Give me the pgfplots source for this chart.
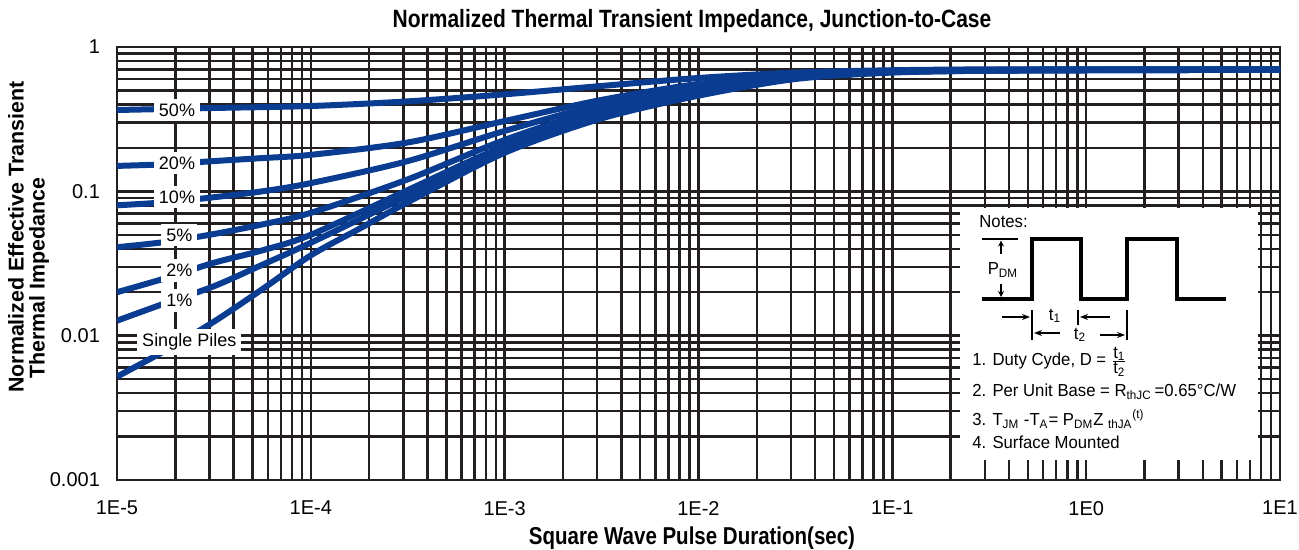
\documentclass[border=0pt]{standalone}
\usepackage{fontspec}
\setmainfont{Liberation Sans}
\newfontfamily\narrowfont[FakeStretch=0.84]{Liberation Sans}
\newfontfamily\notefont[FakeStretch=0.96]{Liberation Sans}
\usepackage{pgfplots}
\pgfplotsset{compat=1.18}
\usetikzlibrary{arrows.meta}
\definecolor{gridc}{HTML}{231F20}
\definecolor{curve}{HTML}{0A3D91}
\begin{document}
\begin{tikzpicture}
\useasboundingbox (-58.5pt,-35pt) rectangle (591pt,240pt);
\begin{axis}[
  at={(0pt,0pt)}, anchor=south west,
  scale only axis, width=581.5pt, height=216.5pt,
  xmode=log, ymode=log,
  xmin=1e-5, xmax=10, ymin=1e-3, ymax=1,
  xtick={1e-5,1e-4,1e-3,1e-2,1e-1,1,10},
  xticklabels={1E-5,1E-4,1E-3,1E-2,1E-1,1E0,1E1},
  ytick={0.001,0.01,0.1,1},
  yticklabels={0.001,0.01,0.1,1},
  minor xtick={2e-5,3e-5,4e-5,5e-5,6e-5,7e-5,8e-5,9e-5,
               2e-4,3e-4,4e-4,5e-4,6e-4,7e-4,8e-4,9e-4,
               2e-3,3e-3,4e-3,5e-3,6e-3,7e-3,8e-3,9e-3,
               2e-2,3e-2,4e-2,5e-2,6e-2,7e-2,8e-2,9e-2,
               0.2,0.3,0.4,0.5,0.6,0.7,0.8,0.9,
               2,3,4,5,6,7,8,9},
  minor ytick={0.002,0.003,0.004,0.005,0.006,0.007,0.008,0.009,
               0.02,0.03,0.04,0.05,0.06,0.07,0.08,0.09,
               0.2,0.3,0.4,0.5,0.6,0.7,0.8,0.9},
  grid=both,
  major grid style={draw=gridc, line width=1.25pt},
  minor grid style={draw=gridc, line width=1.25pt},
  axis line style={draw=gridc, line width=1.25pt},
  major tick length=0pt, minor tick length=0pt,
  tick label style={font=\fontsize{10}{12}\selectfont, text=black},
  xticklabel style={yshift=-7pt},
  yticklabel style={xshift=-5pt},
  clip=true,
]
% Single pulse
\addplot[curve, line width=3pt, smooth] coordinates {
 (1e-5,0.0052) (1.778e-5,0.0079) (3.162e-5,0.0125) (5.623e-5,0.021) (1e-4,0.036)
 (1.778e-4,0.055) (3.162e-4,0.084) (1e-3,0.185) (3.162e-3,0.32) (1e-2,0.46)
 (3.162e-2,0.60) (0.1,0.665) (0.3162,0.685) (1,0.69) (10,0.695)};
% 1%
\addplot[curve, line width=3pt, smooth] coordinates {
 (1e-5,0.0127) (1.778e-5,0.0168) (3.162e-5,0.022) (5.623e-5,0.031) (1e-4,0.044)
 (3.162e-4,0.093) (1e-3,0.195) (3.162e-3,0.335) (1e-2,0.48)
 (3.162e-2,0.61) (0.1,0.67) (0.3162,0.685) (1,0.69) (10,0.695)};
% 2%
\addplot[curve, line width=3pt, smooth] coordinates {
 (1e-5,0.020) (1.778e-5,0.025) (3.162e-5,0.032) (5.623e-5,0.039) (1e-4,0.050)
 (3.162e-4,0.102) (1e-3,0.206) (3.162e-3,0.35) (1e-2,0.495)
 (3.162e-2,0.615) (0.1,0.67) (0.3162,0.685) (1,0.69) (10,0.695)};
% 5%
\addplot[curve, line width=3pt, smooth] coordinates {
 (1e-5,0.041) (1.778e-5,0.0446) (3.162e-5,0.0506) (5.623e-5,0.059) (1e-4,0.071)
 (3.162e-4,0.121) (1e-3,0.227) (3.162e-3,0.375) (1e-2,0.515)
 (3.162e-2,0.62) (0.1,0.675) (0.3162,0.69) (1,0.695) (10,0.70)};
% 10%
\addplot[curve, line width=3pt, smooth] coordinates {
 (1e-5,0.080) (1.778e-5,0.084) (3.162e-5,0.091) (5.623e-5,0.100) (1e-4,0.114)
 (3.162e-4,0.162) (1e-3,0.262) (3.162e-3,0.40) (1e-2,0.535)
 (3.162e-2,0.63) (0.1,0.68) (0.3162,0.69) (1,0.695) (10,0.70)};
% 20%
\addplot[curve, line width=3pt, smooth] coordinates {
 (1e-5,0.150) (1.778e-5,0.154) (3.162e-5,0.162) (5.623e-5,0.170) (1e-4,0.179)
 (3.162e-4,0.218) (1e-3,0.307) (3.162e-3,0.43) (1e-2,0.555)
 (3.162e-2,0.64) (0.1,0.685) (0.3162,0.695) (1,0.70) (10,0.70)};
% 50%
\addplot[curve, line width=3pt, smooth] coordinates {
 (1e-5,0.366) (3.162e-5,0.378) (1e-4,0.39) (3.162e-4,0.42) (1e-3,0.47)
 (3.162e-3,0.537) (1e-2,0.61) (3.162e-2,0.665) (0.1,0.69) (0.3162,0.70)
 (1,0.70) (10,0.70)};
% curve labels
\tikzset{lbl/.style={fill=white, inner sep=2.5pt, font=\fontsize{9}{10}\selectfont}}
\node[lbl] at (axis cs:2.04e-5,0.366) {50\%};
\node[lbl] at (axis cs:2.04e-5,0.157) {20\%};
\node[lbl] at (axis cs:2.04e-5,0.0912) {10\%};
\node[lbl] at (axis cs:2.1e-5,0.0497) {5\%};
\node[lbl] at (axis cs:2.1e-5,0.0284) {2\%};
\node[lbl] at (axis cs:2.1e-5,0.0176) {1\%};
\node[lbl] at (axis cs:2.36e-5,0.00903) {Single Piles};
\end{axis}
% title and axis labels
\node[font=\narrowfont\bfseries\fontsize{12.5}{14}\selectfont] at (287.5pt,229.5pt) {Normalized Thermal Transient Impedance, Junction-to-Case};
\node[font=\narrowfont\bfseries\fontsize{12.2}{14}\selectfont] at (287.5pt,-29pt) {Square Wave Pulse Duration(sec)};
\node[rotate=90, font=\bfseries\fontsize{10.7}{12}\selectfont] at (-50.5pt,121.5pt) {Normalized Effective Transient};
\node[rotate=90, font=\bfseries\fontsize{10.7}{12}\selectfont] at (-39pt,101pt) {Thermal Impedance};
% notes box
\fill[white] (421.5pt,10pt) rectangle (570.5pt,136pt);
\begin{scope}[font=\notefont\fontsize{8.7}{10}\selectfont]
\node[anchor=base west, inner sep=0pt] at (431pt,126pt) {Notes:};
\draw[black, line width=2.3pt] (432.5pt,90.5pt) -- (457.5pt,90.5pt) -- (457.5pt,120.5pt) -- (482pt,120.5pt) -- (482pt,90.5pt) -- (505pt,90.5pt) -- (505pt,120.5pt) -- (530pt,120.5pt) -- (530pt,90.5pt) -- (554.5pt,90.5pt);
\draw[black, line width=1pt] (432.5pt,120.5pt) -- (450.5pt,120.5pt);
\draw[black, line width=0.6pt, -{Stealth[length=3pt,width=3pt]}] (442pt,113pt) -- (442pt,119.7pt);
\draw[black, line width=0.6pt, -{Stealth[length=3pt,width=3pt]}] (442pt,98pt) -- (442pt,91.5pt);
\node[inner sep=0pt] at (443pt,105pt) {P\textsubscript{DM}};
% t1 / t2 dimension marks
\draw[black, line width=0.8pt, -{Stealth[length=4pt,width=3pt]}] (442.5pt,81.5pt) -- (456.5pt,81.5pt);
\draw[black, line width=1.2pt] (457.5pt,85pt) -- (457.5pt,70pt);
\node[inner sep=0pt] at (469pt,82pt) {t\textsubscript{1}};
\draw[black, line width=0.8pt, -{Stealth[length=4pt,width=3pt]}] (471.5pt,73.5pt) -- (458.5pt,73.5pt);
\draw[black, line width=1.2pt] (480.5pt,85pt) -- (480.5pt,77.5pt);
\draw[black, line width=0.8pt, -{Stealth[length=4pt,width=3pt]}] (496.5pt,81.5pt) -- (481.5pt,81.5pt);
\node[inner sep=0pt] at (481.5pt,72.5pt) {t\textsubscript{2}};
\draw[black, line width=0.8pt, -{Stealth[length=4pt,width=3pt]}] (491.5pt,72.5pt) -- (504pt,72.5pt);
\draw[black, line width=1.2pt] (505pt,85pt) -- (505pt,70pt);
\node[anchor=base west, inner sep=0pt] at (427.5pt,57pt) {1. Duty Cyde, D = $\frac{\mbox{\notefont\fontsize{8.7}{10}\selectfont t\textsubscript{1}}}{\mbox{\notefont\fontsize{8.7}{10}\selectfont t\textsubscript{2}}}$};
\node[anchor=base west, inner sep=0pt] at (427.5pt,41.5pt) {2. Per Unit Base = R\textsubscript{thJC}\,=0.65°C/W};
\node[anchor=base west, inner sep=0pt] at (427.5pt,27pt) {3. T\textsubscript{JM} -T\textsubscript{A}= P\textsubscript{DM}Z \textsubscript{thJA}\textsuperscript{(t)}};
\node[anchor=base west, inner sep=0pt] at (427.5pt,15.5pt) {4. Surface Mounted};
\end{scope}
\end{tikzpicture}
\end{document}
